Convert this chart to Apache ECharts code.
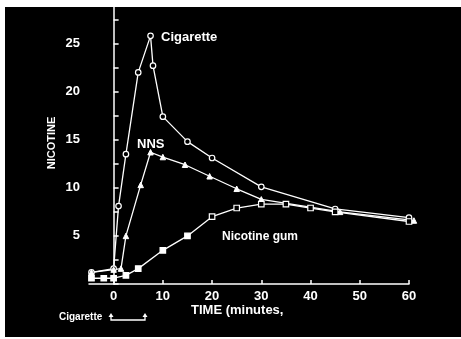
<!DOCTYPE html>
<html><head><meta charset="utf-8">
<script src="https://cdn.jsdelivr.net/npm/echarts@6/dist/echarts.min.js"></script>
<style>
html,body{margin:0;padding:0;background:#fff;width:461px;height:339px;overflow:hidden}
#frame{position:absolute;left:5px;top:7px;width:456px;height:330px;background:#000}
#c{position:absolute;left:0;top:0;width:461px;height:339px}
</style></head><body>
<div id="frame"></div>
<div id="c"></div>
<script>
// Data
const cigX = [-4.5, 0, 1, 2.5, 5, 7.5, 8, 10, 15, 20, 30, 45, 60];
const cigY = [1.2, 1.6, 8.1, 13.5, 22, 25.8, 22.7, 17.4, 14.8, 13.1, 10.1, 7.8, 6.9];
const nnsX = [-4.5, 0, 1.5, 2.5, 5.5, 7.5, 10, 14.5, 19.5, 25, 30, 46, 61];
const nnsY = [1.2, 1.5, 1.6, 5.0, 10.3, 13.7, 13.2, 12.4, 11.2, 9.9, 8.8, 7.5, 6.6];
const gumX = [-4.5, -2, 0, 2.5, 5, 10, 15, 20, 25, 30, 35, 40, 45, 60];
const gumY = [0.6, 0.6, 0.6, 0.9, 1.6, 3.5, 5.0, 7.0, 7.9, 8.3, 8.3, 7.9, 7.5, 6.5];
const gumFilledCount = 7;
const xTicks = [0, 10, 20, 30, 40, 50, 60];
const yTicks = [0, 2.5, 5, 7.5, 10, 12.5, 15, 17.5, 20, 22.5, 25, 27.5];
const yLabels = [5, 10, 15, 20, 25];

const zip = (xs, ys) => xs.map((x, i) => [x, ys[i]]);
const chart = echarts.init(document.getElementById('c'), null, {renderer: 'canvas'});
const font = 'Liberation Sans, Arial, sans-serif';
const lab = (text, x, y, size) => ({
  type: 'text', left: x, top: y,
  style: {text: text, fill: '#fff', font: 'bold ' + size + 'px ' + font}
});

chart.setOption({
  backgroundColor: 'transparent',
  animation: false,
  grid: {left: 89, right: 52, top: 7, bottom: 55},
  xAxis: {
    type: 'value', min: -5, max: 60,
    splitLine: {show: false},
    axisLine: {show: true, onZero: false, lineStyle: {color: '#fff', width: 1.5}},
    axisTick: {show: true, inside: true, length: 4, customValues: xTicks, lineStyle: {color: '#fff', width: 1.5}},
    axisLabel: {customValues: xTicks, color: '#fff', fontSize: 13, fontWeight: 'bold', fontFamily: font, margin: 6}
  },
  yAxis: {
    type: 'value', min: 0, max: 28.8,
    splitLine: {show: false},
    axisLine: {show: true, lineStyle: {color: '#fff', width: 1.5}},
    axisTick: {show: true, inside: true, length: 5, customValues: yTicks, lineStyle: {color: '#fff', width: 1.5}},
    axisLabel: {customValues: yLabels, color: '#fff', fontSize: 13, fontWeight: 'bold', fontFamily: font, margin: 9}
  },
  series: [
    {type: 'line', data: zip(cigX, cigY), clip: false, symbol: 'circle', symbolSize: 5.5,
     lineStyle: {color: '#fff', width: 1.3},
     itemStyle: {color: '#000', borderColor: '#fff', borderWidth: 1.2}},
    {type: 'line', data: zip(nnsX, nnsY), clip: false, symbol: 'triangle', symbolSize: 5.5,
     lineStyle: {color: '#fff', width: 1.3},
     itemStyle: {color: '#fff', borderColor: '#fff', borderWidth: 1}},
    {type: 'line', data: zip(gumX, gumY), clip: false, symbol: 'rect', symbolSize: 5.5,
     lineStyle: {color: '#fff', width: 1.3},
     itemStyle: {color: p => p.dataIndex < gumFilledCount ? '#fff' : '#000', borderColor: '#fff', borderWidth: 1.2}}
  ],
  graphic: [
    lab('Cigarette', 161, 31, 13),
    lab('NNS', 137, 138, 13),
    lab('Nicotine gum', 222, 231, 12),
    lab('TIME (minutes,', 191, 304, 13),
    lab('Cigarette', 59, 312, 10),
    {type: 'text', x: 52, y: 143, rotation: Math.PI / 2,
     style: {text: 'NICOTINE', fill: '#fff', font: 'bold 11px ' + font, align: 'center', verticalAlign: 'middle'}},
    {type: 'polyline', shape: {points: [[111, 315], [111, 320], [145, 320], [145, 315]]},
     style: {stroke: '#fff', lineWidth: 1.3, fill: null}},
    {type: 'polygon', shape: {points: [[108.5, 317], [111, 313], [113.5, 317]]}, style: {fill: '#fff'}},
    {type: 'polygon', shape: {points: [[142.5, 317], [145, 313], [147.5, 317]]}, style: {fill: '#fff'}}
  ]
});
</script>
</body></html>
